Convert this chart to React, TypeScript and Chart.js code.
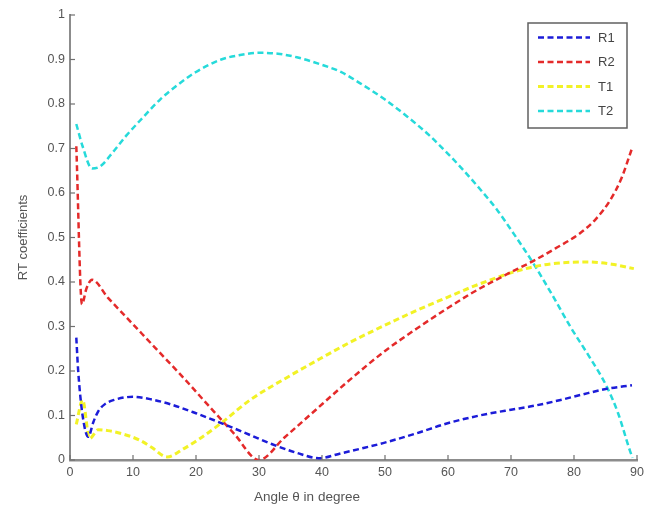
import { useEffect, useRef } from "react";
import { Chart, registerables } from "chart.js";

Chart.register(...registerables);

// ---- data ----
const r1Angles = [1, 1.3, 2, 2.9, 3.7, 4.5, 5.5, 7, 10, 13, 16, 20, 24, 28.6, 32, 36, 39.5, 43, 46, 49.7, 55, 59.8, 65, 70, 73, 77, 81, 85.2, 89.2];
const r1Values = [0.275, 0.2, 0.1, 0.052, 0.085, 0.11, 0.125, 0.135, 0.142, 0.136, 0.125, 0.105, 0.083, 0.056, 0.036, 0.016, 0.004, 0.015, 0.025, 0.038, 0.06, 0.082, 0.1, 0.113, 0.12, 0.132, 0.146, 0.16, 0.168];

const r2Angles = [1, 1.9, 2.6, 3.5, 6, 10, 14, 18, 22, 26, 30, 34, 38, 44.4, 50, 55, 59.8, 64, 69, 73.5, 77, 81, 83.5, 85.7, 87.5, 89.2];
const r2Values = [0.705, 0.35, 0.385, 0.405, 0.365, 0.305, 0.245, 0.185, 0.122, 0.06, 0.0, 0.05, 0.1, 0.18, 0.245, 0.295, 0.34, 0.377, 0.415, 0.447, 0.475, 0.51, 0.542, 0.583, 0.632, 0.7];

const t1Angles = [1, 2, 3.1, 4.5, 6, 8.5, 11, 13, 15.4, 18, 20.5, 24, 28.6, 35, 40, 44.4, 50, 55, 59.8, 64, 69, 73.5, 78, 82, 86, 89.5];
const t1Values = [0.08, 0.135, 0.048, 0.068, 0.066, 0.058, 0.045, 0.028, 0.007, 0.025, 0.047, 0.083, 0.135, 0.19, 0.23, 0.264, 0.303, 0.336, 0.365, 0.39, 0.416, 0.434, 0.443, 0.445, 0.44, 0.43];

const t2Angles = [1, 2, 3.5, 4.8, 7, 9, 11.6, 14.3, 17, 20, 24, 27, 30, 33, 36, 40, 43, 46, 50, 53.5, 57, 60, 62.4, 65, 67.8, 70.5, 73.5, 76.5, 79.4, 82.3, 85.2, 87, 88.9, 89.3];
const t2Values = [0.755, 0.705, 0.655, 0.66, 0.695, 0.73, 0.77, 0.81, 0.842, 0.872, 0.9, 0.91, 0.915, 0.913, 0.905, 0.888, 0.872, 0.847, 0.81, 0.772, 0.73, 0.688, 0.652, 0.61, 0.562, 0.507, 0.443, 0.372, 0.3, 0.235, 0.165, 0.105, 0.02, 0.005];

const seriesLabels = ["R1", "R2", "T1", "T2"];
const seriesColors = ["#1c1cd8", "#e42a2a", "#f2f226", "#26dada"];

const xMin = 0;
const xMax = 90;
const xStep = 10;
const yMin = 0;
const yMax = 1;
const yStep = 0.1;

const xTitle = "Angle θ in degree";
const yTitle = "RT coefficients";

const FONT = "'Liberation Sans', Arial, Helvetica, sans-serif";

export default function App() {
  const ref = useRef<HTMLCanvasElement>(null);

  useEffect(() => {
    const canvas = ref.current;
    if (!canvas) return;

    const toPts = (a: number[], v: number[]) => a.map((x, i) => ({ x, y: v[i] }));
    const allAngles = [r1Angles, r2Angles, t1Angles, t2Angles];
    const allValues = [r1Values, r2Values, t1Values, t2Values];

    const dash = [6, 3.5];

    const inwardTicks = {
      id: "inwardTicks",
      afterDatasetsDraw(chart: any) {
        const { ctx, chartArea, scales } = chart;
        const xs = scales.x;
        const ys = scales.y;
        ctx.save();
        ctx.strokeStyle = "#707070";
        ctx.lineWidth = 1.2;
        ctx.setLineDash([]);
        xs.ticks.forEach((t: any) => {
          const px = xs.getPixelForValue(t.value);
          ctx.beginPath();
          ctx.moveTo(px, chartArea.bottom);
          ctx.lineTo(px, chartArea.bottom - 5);
          ctx.stroke();
        });
        ys.ticks.forEach((t: any) => {
          const py = ys.getPixelForValue(t.value);
          ctx.beginPath();
          ctx.moveTo(chartArea.left, py);
          ctx.lineTo(chartArea.left + 5, py);
          ctx.stroke();
        });
        // x-axis title (offset to the left as in the reference)
        ctx.fillStyle = "#555";
        ctx.font = `13.5px ${FONT}`;
        ctx.textAlign = "center";
        ctx.textBaseline = "middle";
        ctx.fillText(xTitle, 307, 497);
        ctx.restore();
      },
    };

    const boxLegend = {
      id: "boxLegend",
      afterDraw(chart: any) {
        const { ctx } = chart;
        const bx = 528, by = 23, bw = 99, bh = 105;
        ctx.save();
        ctx.fillStyle = "#fff";
        ctx.fillRect(bx, by, bw, bh);
        ctx.strokeStyle = "#606060";
        ctx.lineWidth = 1.5;
        ctx.setLineDash([]);
        ctx.strokeRect(bx, by, bw, bh);
        chart.data.datasets.forEach((ds: any, i: number) => {
          const y = 37.5 + i * 24.5;
          ctx.strokeStyle = ds.borderColor;
          ctx.lineWidth = ds.borderWidth;
          ctx.setLineDash(dash);
          ctx.beginPath();
          ctx.moveTo(538, y);
          ctx.lineTo(590, y);
          ctx.stroke();
          ctx.setLineDash([]);
          ctx.fillStyle = "#444";
          ctx.font = `13px ${FONT}`;
          ctx.textAlign = "left";
          ctx.textBaseline = "middle";
          ctx.fillText(ds.label, 598, y + 0.5);
        });
        ctx.restore();
      },
    };

    const chart = new Chart(canvas, {
      type: "line",
      data: {
        datasets: seriesLabels.map((label, i) => ({
          label,
          data: toPts(allAngles[i], allValues[i]),
          borderColor: seriesColors[i],
          backgroundColor: seriesColors[i],
          borderWidth: i === 2 ? 3 : 2.5,
          borderDash: dash,
          pointRadius: 0,
          fill: false,
          cubicInterpolationMode: "monotone" as const,
        })),
      },
      options: {
        animation: false,
        responsive: false,
        maintainAspectRatio: false,
        layout: { padding: { top: 15, right: 16, left: 0, bottom: 0 } },
        plugins: {
          legend: { display: false },
          tooltip: { enabled: false },
        },
        scales: {
          x: {
            type: "linear",
            min: xMin,
            max: xMax,
            grid: { display: false, drawTicks: false },
            border: { display: true, color: "#8c8c8c", width: 2.5 },
            ticks: {
              stepSize: xStep,
              color: "#555",
              padding: 5,
              font: { family: FONT, size: 12.5 },
              maxRotation: 0,
            },
            afterFit(scale: any) {
              scale.height = 50;
            },
          },
          y: {
            type: "linear",
            min: yMin,
            max: yMax,
            grid: { display: false, drawTicks: false },
            border: { display: true, color: "#8c8c8c", width: 2 },
            ticks: {
              stepSize: yStep,
              color: "#555",
              padding: 5,
              font: { family: FONT, size: 12.5 },
              callback: (v: any) => String(Math.round(Number(v) * 10) / 10),
            },
            title: {
              display: true,
              text: yTitle,
              color: "#555",
              font: { family: FONT, size: 13 },
              padding: { top: 16, bottom: 0 },
            },
            afterFit(scale: any) {
              scale.width = 70;
            },
          },
        },
      },
      plugins: [inwardTicks, boxLegend],
    });

    return () => chart.destroy();
  }, []);

  return (
    <div style={{ position: "fixed", left: 0, top: 0, width: 653, height: 510, background: "#fff" }}>
      <canvas ref={ref} width={653} height={510} style={{ display: "block" }} />
    </div>
  );
}
